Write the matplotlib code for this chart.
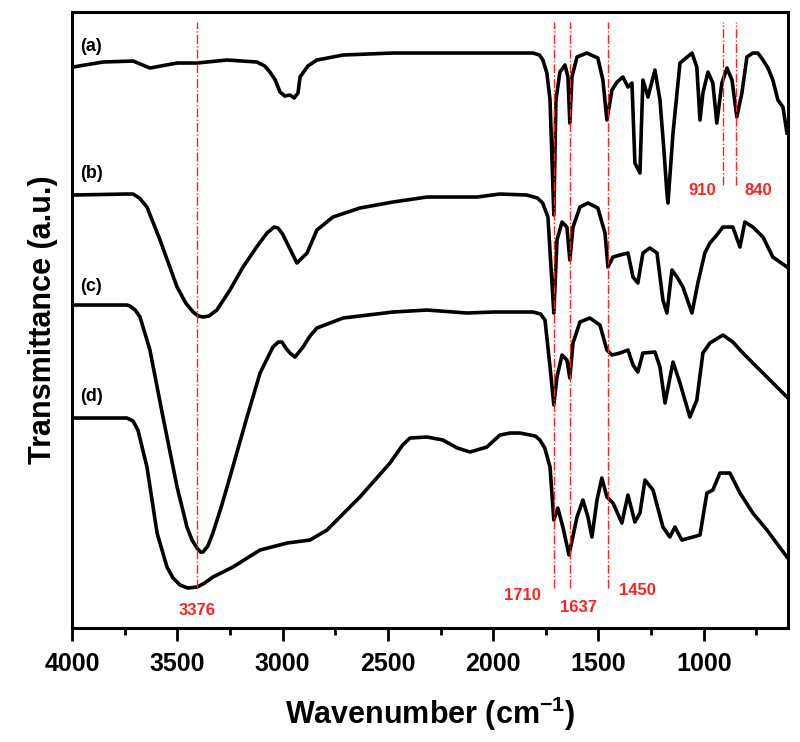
import numpy as np
import matplotlib
matplotlib.use("Agg")
import matplotlib.pyplot as plt
from matplotlib.ticker import MultipleLocator

plt.rcParams['font.family'] = ['Liberation Sans', 'DejaVu Sans']
plt.rcParams['font.weight'] = 'bold'
plt.rcParams['mathtext.fontset'] = 'custom'
plt.rcParams['mathtext.bf'] = 'Liberation Sans:bold'
plt.rcParams['mathtext.rm'] = 'Liberation Sans:bold'

# spectra (wavenumber, transmittance a.u. incl. offset)
wn_a = [3995, 3853, 3710, 3630, 3501, 3406, 3264, 3122, 3085, 3060, 3035, 3012, 2990, 2965, 2945,
        2927, 2917, 2880, 2837, 2713, 2476, 2001, 1811, 1780, 1764, 1745, 1730, 1712, 1702, 1683,
        1659, 1645, 1636, 1626, 1602, 1555, 1503, 1479, 1460, 1436, 1412, 1384, 1360, 1341, 1327,
        1303, 1289, 1265, 1232, 1208, 1190, 1175, 1170, 1158, 1146, 1113, 1056, 1033, 1018, 1004,
        980, 957, 938, 914, 890, 866, 843, 819, 795, 767, 743, 719, 695, 672, 648, 624, 605]
t_a = [561, 566, 567, 560, 565, 565, 568, 566, 562, 556, 548, 536, 532, 533, 530,
       535, 551, 562, 568, 573, 575, 575, 575, 573, 568, 555, 528, 413, 528, 556,
       563, 551, 505, 551, 571, 575, 570, 548, 508, 538, 546, 551, 541, 545, 465,
       455, 548, 531, 558, 528, 480, 435, 425, 460, 495, 565, 575, 561, 508, 535,
       556, 545, 505, 545, 560, 548, 511, 535, 571, 575, 575, 568, 560, 548, 528, 521, 495]

wn_b = [3995, 3740, 3710, 3680, 3644, 3582, 3501, 3460, 3425, 3400, 3378, 3350, 3312, 3250, 3188,
        3120, 3074, 3040, 3022, 3000, 2979, 2932, 2884, 2837, 2761, 2633, 2476, 2314, 2077, 1968,
        1840, 1790, 1765, 1740, 1712, 1697, 1673, 1650, 1636, 1621, 1588, 1550, 1503, 1469, 1455,
        1431, 1398, 1360, 1336, 1313, 1289, 1256, 1222, 1194, 1175, 1151, 1127, 1099, 1056, 1028,
        995, 971, 938, 909, 862, 828, 805, 767, 719, 672, 605]
t_b = [433, 434, 434, 430, 421, 388, 341, 325, 316, 312, 311, 312, 318, 338, 361,
       382, 395, 401, 400, 394, 385, 365, 375, 398, 411, 420, 426, 431, 431, 434,
       433, 430, 425, 411, 315, 388, 406, 401, 368, 401, 421, 425, 420, 395, 361,
       371, 373, 375, 351, 345, 375, 380, 375, 328, 315, 358, 351, 341, 315, 345,
       375, 385, 393, 401, 401, 381, 406, 401, 391, 371, 361]

wn_c = [3995, 3739, 3725, 3700, 3677, 3630, 3568, 3501, 3454, 3430, 3406, 3390, 3378, 3355, 3331,
        3290, 3250, 3169, 3107, 3046, 3020, 3003, 2985, 2965, 2941, 2903, 2870, 2837, 2713, 2476,
        2314, 2125, 2001, 1811, 1775, 1754, 1730, 1712, 1697, 1673, 1650, 1636, 1621, 1588, 1541,
        1493, 1460, 1436, 1398, 1360, 1336, 1313, 1289, 1232, 1208, 1184, 1146, 1113, 1066, 1033,
        1004, 971, 909, 862, 814, 767, 700, 605]
t_c = [323, 323, 322, 318, 311, 278, 211, 141, 101, 88, 80, 76, 76, 82, 95,
       122, 151, 211, 255, 281, 286, 286, 280, 275, 271, 281, 292, 300, 310, 316,
       318, 315, 316, 316, 314, 308, 261, 223, 251, 273, 268, 250, 285, 306, 310,
       303, 278, 273, 275, 278, 263, 256, 275, 276, 261, 225, 266, 245, 211, 228,
       275, 285, 293, 286, 275, 265, 251, 231]

wn_d = [3995, 3739, 3710, 3687, 3644, 3596, 3549, 3520, 3487, 3450, 3406, 3370, 3331, 3236, 3107,
        2979, 2870, 2789, 2633, 2490, 2430, 2395, 2314, 2239, 2170, 2110, 2030, 1968, 1920, 1873,
        1800, 1778, 1755, 1730, 1712, 1693, 1669, 1640, 1602, 1574, 1550, 1531, 1507, 1484, 1460,
        1431, 1389, 1360, 1327, 1303, 1279, 1241, 1194, 1161, 1137, 1104, 1052, 1018, 985, 957,
        923, 876, 828, 767, 700, 605]
t_d = [210, 210, 207, 198, 161, 95, 61, 50, 43, 40, 41, 45, 51, 61, 78,
       85, 88, 98, 131, 165, 183, 190, 191, 188, 180, 176, 181, 193, 195, 195,
       192, 188, 180, 161, 108, 120, 101, 73, 111, 128, 111, 91, 128, 150, 131,
       125, 105, 133, 106, 115, 148, 138, 101, 91, 101, 88, 91, 93, 135, 138,
       155, 155, 135, 115, 98, 71]

series = [("(a)", wn_a, t_a, 582), ("(b)", wn_b, t_b, 455),
          ("(c)", wn_c, t_c, 342), ("(d)", wn_d, t_d, 232)]

# marked bands: line position, label, label x, label y, line bottom
band_pos = [3405, 1712, 1636, 1456, 910, 846]
band_txt = ["3376", "1710", "1637", "1450", "910", "840"]
band_lx = [3405, 1863, 1597, 1313, 1009, 743]
band_ly = [18, 33, 21, 38, 438, 438]
band_bot = [40, 40, 40, 40, 443, 443]

fig = plt.figure(figsize=(8, 7.42), dpi=100)
ax = fig.add_axes([0.09, 0.1536, 0.895, 0.8302])

for lab, x, y, ly in series:
    ax.plot(x, y, color='black', lw=2.6, solid_joinstyle='round')
    ax.text(3962, ly, lab, fontsize=13, fontweight='bold', ha='left', va='center')

for p, txt, lx, ly, bot in zip(band_pos, band_txt, band_lx, band_ly, band_bot):
    ax.vlines(p, bot, 606, colors='#ff2020', linestyles='-.', lw=1.0)
    ax.text(lx, ly, txt, color='#ff2020', fontsize=12, fontweight='bold',
            ha='center', va='center')

ax.set_xlim(4000, 600)
ax.set_ylim(0, 616)
ax.xaxis.set_major_locator(MultipleLocator(500))
ax.xaxis.set_minor_locator(MultipleLocator(250))
ax.set_yticks([])
ax.tick_params(axis='x', which='major', direction='out', length=9, width=2, labelsize=18, pad=8)
ax.tick_params(axis='x', which='minor', direction='out', length=5, width=2)
for s in ax.spines.values():
    s.set_linewidth(2.2)
for lab in ax.get_xticklabels():
    lab.set_fontweight('bold')

ax.set_xlabel('Wavenumber (cm$^{\\mathrm{-1}}$)', fontsize=22, fontweight='bold', labelpad=14)
ax.set_ylabel('Transmittance (a.u.)', fontsize=22, fontweight='bold', labelpad=10)

fig.savefig('out.png', dpi=100)
